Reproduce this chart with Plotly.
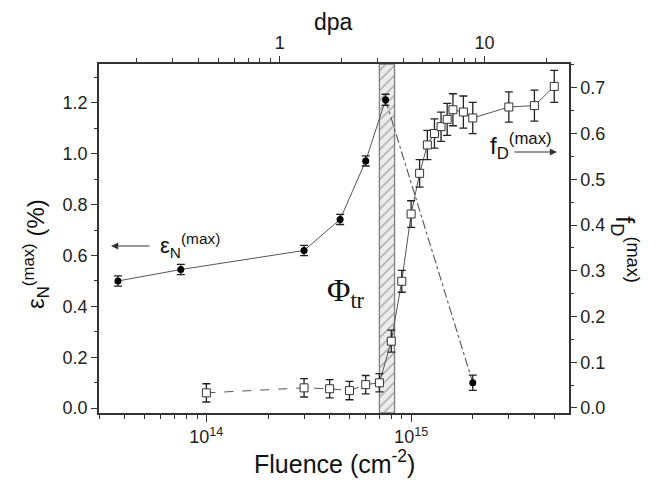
import plotly.graph_objects as go

# ---- data -------------------------------------------------------------
# epsilon_N(max) (%) versus fluence (cm^-2)
eps_fluence = [3.7e13, 7.5e13, 3.0e14, 4.5e14, 6.0e14, 7.5e14, 2.0e15]
eps_value = [0.50, 0.545, 0.62, 0.742, 0.972, 1.212, 0.10]
eps_err = [0.02, 0.02, 0.02, 0.02, 0.02, 0.022, 0.03]

# f_D(max) versus fluence (cm^-2)
fd_fluence = [1.0e14, 3.0e14, 4.0e14, 5.0e14, 6.0e14, 7.0e14, 8.0e14, 9.0e14,
              1.0e15, 1.1e15, 1.2e15, 1.3e15, 1.4e15, 1.5e15, 1.6e15, 1.8e15,
              2.0e15, 3.0e15, 4.0e15, 5.0e15]
fd_value = [0.033, 0.044, 0.042, 0.038, 0.051, 0.055, 0.146, 0.277,
            0.424, 0.513, 0.575, 0.600, 0.615, 0.631, 0.652, 0.647,
            0.634, 0.658, 0.661, 0.703]
fd_err = [0.02, 0.02, 0.02, 0.02, 0.02, 0.02, 0.024, 0.024,
          0.029, 0.03, 0.032, 0.032, 0.032, 0.035, 0.035, 0.035,
          0.034, 0.033, 0.034, 0.035]

# transition fluence band Phi_tr
band_fluence = [7.0e14, 8.3e14]

# tick values
x_major = [1e14, 1e15]
x_major_text = ["10<sup>14</sup>", "10<sup>15</sup>"]
x_minor = [3e13, 4e13, 5e13, 6e13, 7e13, 8e13, 9e13,
           2e14, 3e14, 4e14, 5e14, 6e14, 7e14, 8e14, 9e14,
           2e15, 3e15, 4e15, 5e15]
dpa_major = [1, 10]
dpa_minor = [0.2, 0.3, 0.4, 0.5, 0.6, 0.7, 0.8, 0.9,
             2, 3, 4, 5, 6, 7, 8, 9, 20]
eps_ticks = [0.0, 0.2, 0.4, 0.6, 0.8, 1.0, 1.2]
eps_minor = [0.1, 0.3, 0.5, 0.7, 0.9, 1.1, 1.3]
fd_ticks = [0.0, 0.1, 0.2, 0.3, 0.4, 0.5, 0.6, 0.7]
fd_minor = [0.05, 0.15, 0.25, 0.35, 0.45, 0.55, 0.65, 0.75]

# ---- styling ----------------------------------------------------------
SANS = "Liberation Sans, Arial, sans-serif"
SERIF = "Liberation Serif, Times New Roman, serif"
AX = "#333333"
LINE = "#555555"
W, H = 657, 485
L, R, T, B = 99, 88, 64, 72
PW, PH = W - L - R, H - T - B


def px(x):
    return (x - L) / PW


def py(y):
    return (H - B - y) / PH


fig = go.Figure()

# hatched band (drawn on the hidden base axis, underneath the data)
fig.add_trace(go.Scatter(
    x=[band_fluence[0], band_fluence[1], band_fluence[1], band_fluence[0], band_fluence[0]],
    y=[0, 0, 1, 1, 0],
    mode="lines", fill="toself",
    fillcolor="#ececec",
    fillpattern=dict(shape="/", fgcolor="#6a6a6a", bgcolor="#ececec", size=7, solidity=0.22),
    line=dict(color="#808080", width=1.3),
    xaxis="x", yaxis="y", hoverinfo="skip", showlegend=False,
))

# carrier for the top dpa axis (no visible marks)
fig.add_trace(go.Scatter(
    x=dpa_major, y=[0.5] * len(dpa_major), mode="markers",
    marker=dict(opacity=0), xaxis="x2", yaxis="y", hoverinfo="skip", showlegend=False))

# epsilon: solid up to the peak, dash-dot afterwards
peak = eps_value.index(max(eps_value))
fig.add_trace(go.Scatter(
    x=eps_fluence[:peak + 1], y=eps_value[:peak + 1], mode="lines",
    line=dict(color=LINE, width=1), xaxis="x", yaxis="y2", showlegend=False))
fig.add_trace(go.Scatter(
    x=eps_fluence[peak:], y=eps_value[peak:], mode="lines",
    line=dict(color=LINE, width=1.1, dash="dashdot"), xaxis="x", yaxis="y2", showlegend=False))

# f_D: dashed through the low plateau, solid afterwards
knee = 5
fig.add_trace(go.Scatter(
    x=fd_fluence[:knee + 1], y=fd_value[:knee + 1], mode="lines",
    line=dict(color=LINE, width=1, dash="dash"), xaxis="x", yaxis="y3", showlegend=False))
fig.add_trace(go.Scatter(
    x=fd_fluence[knee:], y=fd_value[knee:], mode="lines",
    line=dict(color=LINE, width=1), xaxis="x", yaxis="y3", showlegend=False))

# markers with error bars
fig.add_trace(go.Scatter(
    x=fd_fluence, y=fd_value, mode="markers",
    marker=dict(symbol="square", size=8, color="white", line=dict(color="#333333", width=1)),
    error_y=dict(type="data", array=fd_err, color="#222222", thickness=1.3, width=4),
    xaxis="x", yaxis="y3", showlegend=False))
fig.add_trace(go.Scatter(
    x=eps_fluence, y=eps_value, mode="markers",
    marker=dict(symbol="circle", size=7, color="black"),
    error_y=dict(type="data", array=eps_err, color="#222222", thickness=1.3, width=4),
    xaxis="x", yaxis="y2", showlegend=False))

axis_common = dict(
    showline=True, linecolor=AX, linewidth=1.5, showgrid=False, zeroline=False,
    ticks="outside", tickcolor=AX, tickwidth=1.3,
    tickfont=dict(family=SANS, size=18, color="#222222"),
)

fig.update_layout(
    width=W, height=H,
    margin=dict(l=L, r=R, t=T, b=B),
    paper_bgcolor="white", plot_bgcolor="white",
    showlegend=False,
    xaxis=dict(
        type="log", range=[13.4756, 15.771], anchor="y",
        tickvals=x_major, ticktext=x_major_text, ticklen=7,
        minor=dict(ticks="outside", ticklen=4, tickvals=x_minor, tickcolor=AX, tickwidth=1.2),
        **axis_common),
    xaxis2=dict(
        type="log", range=[-0.883, 1.4125], overlaying="x", side="top", anchor="y",
        tickvals=dpa_major, ticktext=["1", "10"], ticklen=6,
        minor=dict(ticks="outside", ticklen=4, tickvals=dpa_minor, tickcolor=AX, tickwidth=1.2),
        **axis_common),
    yaxis=dict(range=[0, 1], visible=False, fixedrange=True),
    yaxis2=dict(
        range=[-0.019, 1.353], overlaying="y", side="left", anchor="x",
        tickvals=eps_ticks, tickformat=".1f", ticklen=6,
        minor=dict(ticks="outside", ticklen=3, tickvals=eps_minor, tickcolor=AX, tickwidth=1.2),
        **axis_common),
    yaxis3=dict(
        range=[-0.011, 0.752], overlaying="y", side="right", anchor="x",
        tickvals=fd_ticks, tickformat=".1f", ticklen=6,
        minor=dict(ticks="outside", ticklen=3, tickvals=fd_minor, tickcolor=AX, tickwidth=1.2),
        **axis_common),
)

TXT = "#111111"


def label(text, x, y, size, family=SANS, angle=0, xanchor="center"):
    return dict(text=text, x=px(x), y=py(y), xref="paper", yref="paper",
                xanchor=xanchor, yanchor="middle", textangle=angle, showarrow=False,
                font=dict(family=family, size=size, color=TXT))


def arrow(x_tip, y_tip, dx):
    return dict(text="", x=px(x_tip), y=py(y_tip), xref="paper", yref="paper",
                ax=dx, ay=0, showarrow=True, arrowhead=2, arrowsize=1.2,
                arrowwidth=1.2, arrowcolor="#333333")


ann = [
    # axis titles
    label("Fluence (cm<sup>-2</sup>)", 334, 462, 25),
    label("dpa", 333, 22, 23),
    label("ε<sub>N</sub><sup>(max)</sup> (%)", 36, 254, 24, angle=-90),
    label("f<sub>D</sub><sup>(max)</sup>", 625, 249, 26, angle=90),
    # in-plot labels
    label("Φ<sub>tr</sub>", 346, 292, 32, family=SERIF),
    label("ε<sub>N</sub><sup>(max)</sup>", 158, 245, 22, xanchor="left"),
    arrow(111, 246, 40),
    label("f<sub>D</sub><sup>(max)</sup>", 488, 146, 24, xanchor="left"),
    arrow(557, 152, -44),
]
fig.update_layout(annotations=ann)

fig.write_html("out.html")
